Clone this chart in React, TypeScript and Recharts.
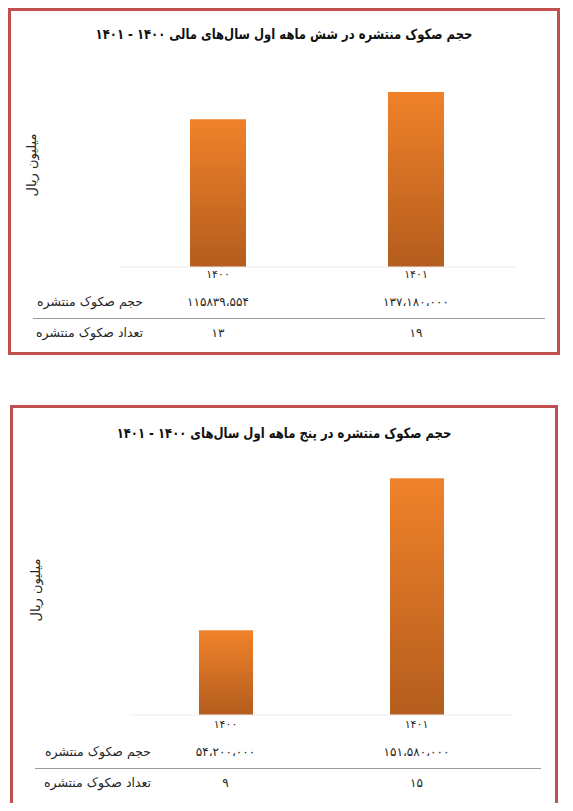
import React from "react";
import { BarChart, Bar, XAxis, YAxis } from "recharts";

const years = ["۱۴۰۰", "۱۴۰۱"];

// شش ماهه اول
const sixMonthVolume = [115839554, 137180000];
const sixMonthVolumeText = ["۱۱۵۸۳۹،۵۵۴", "۱۳۷،۱۸۰،۰۰۰"];
const sixMonthCount = [13, 19];

// پنج ماهه اول
const fiveMonthVolume = [54200000, 151580000];
const fiveMonthVolumeText = ["۵۴،۲۰۰،۰۰۰", "۱۵۱،۵۸۰،۰۰۰"];
const fiveMonthCount = [9, 15];

const rowLabels = ["حجم صکوک منتشره", "تعداد صکوک منتشره"];
const yLabel = "میلیون ریال";
const sixTitle = "حجم صکوک منتشره در شش ماهه اول سال‌های مالی ۱۴۰۰ - ۱۴۰۱";
const fiveTitle = "حجم صکوک منتشره در پنج ماهه اول سال‌های ۱۴۰۰ - ۱۴۰۱";

const FONT = "'DejaVu Sans', sans-serif";
const TEXT = "#262626";

const toFa = (n: number) =>
  String(n).replace(/\d/g, (d) => "۰۱۲۳۴۵۶۷۸۹"[Number(d)]);

const buildRows = (vol: number[], volText: string[], count: number[]) =>
  years.map((year, i) => ({
    year,
    volume: vol[i],
    volumeText: volText[i],
    count: toFa(count[i]),
  }));

type Row = ReturnType<typeof buildRows>[number];

function TableTick(props: any) {
  const { x, y, payload, rows, offsets } = props;
  const row: Row | undefined = rows.find((r: Row) => r.year === payload.value);
  if (!row) return null;
  const common = {
    x,
    textAnchor: "middle" as const,
    dominantBaseline: "central" as const,
    fontFamily: FONT,
    fill: TEXT,
  };
  return (
    <g>
      <text {...common} y={y + offsets[0]} fontSize={11}>
        {row.year}
      </text>
      <text {...common} y={y + offsets[1]} fontSize={12}>
        {row.volumeText}
      </text>
      <text {...common} y={y + offsets[2]} fontSize={12}>
        {row.count}
      </text>
    </g>
  );
}

function Panel({
  title,
  rows,
  gradId,
  box,
  margin,
  axisHeight,
  barSize,
  offsets,
  titleY,
  lineBox,
  labelRight,
  labelY,
  yLabelX,
}: any) {
  const innerW = box.width - 6;
  const innerH = box.height - 6;

  const renderYLabel = (p: any) => {
    const vb = p.viewBox;
    const cx = yLabelX;
    const cy = vb.y + vb.height / 2;
    return (
      <text
        x={cx}
        y={cy}
        transform={`rotate(-90 ${cx} ${cy})`}
        textAnchor="middle"
        dominantBaseline="central"
        fontFamily={FONT}
        fontSize={13}
        fill={TEXT}
      >
        {yLabel}
      </text>
    );
  };

  return (
    <div
      style={{
        position: "absolute",
        left: box.left,
        top: box.top,
        width: box.width,
        height: box.height,
        boxSizing: "border-box",
        border: "3px solid #c0504d",
        background: "#fff",
      }}
    >
      <div
        dir="rtl"
        style={{
          position: "absolute",
          left: 0,
          width: innerW,
          top: titleY - 10,
          height: 20,
          lineHeight: "20px",
          textAlign: "center",
          fontFamily: FONT,
          fontWeight: "bold",
          fontSize: 14,
          color: "#111",
          transform: "scaleX(0.83)",
          whiteSpace: "nowrap",
        }}
      >
        {title}
      </div>

      <BarChart width={innerW} height={innerH} data={rows} margin={margin}>
        <defs>
          <linearGradient id={gradId} x1="0" y1="0" x2="0" y2="1">
            <stop offset="0%" stopColor="#f0822a" />
            <stop offset="100%" stopColor="#b45d1e" />
          </linearGradient>
        </defs>
        <XAxis
          dataKey="year"
          height={axisHeight}
          axisLine={{ stroke: "#ececec" }}
          tickLine={false}
          tickSize={0}
          tickMargin={0}
          interval={0}
          tick={(p: any) => <TableTick {...p} rows={rows} offsets={offsets} />}
        />
        <YAxis
          width={margin.plotLeft}
          domain={[0, 160000000]}
          tick={false}
          axisLine={false}
          tickLine={false}
          label={renderYLabel}
        />
        <Bar
          dataKey="volume"
          fill={`url(#${gradId})`}
          barSize={barSize}
          isAnimationActive={false}
        />
      </BarChart>

      <div
        style={{
          position: "absolute",
          left: lineBox.left,
          top: lineBox.top,
          width: lineBox.width,
          height: 0,
          borderTop: "1px solid #9a9a9a",
        }}
      />

      {rowLabels.map((label, i) => (
        <div
          key={label}
          dir="rtl"
          style={{
            position: "absolute",
            left: 0,
            width: labelRight,
            top: labelY[i] - 10,
            height: 20,
            lineHeight: "20px",
            textAlign: "right",
            fontFamily: FONT,
            fontSize: 12.5,
            color: TEXT,
          }}
        >
          {label}
        </div>
      ))}
    </div>
  );
}

export default function App() {
  const sixRows = buildRows(sixMonthVolume, sixMonthVolumeText, sixMonthCount);
  const fiveRows = buildRows(fiveMonthVolume, fiveMonthVolumeText, fiveMonthCount);

  return (
    <div style={{ position: "relative", width: 557, height: 795 }}>
      <Panel
        title={sixTitle}
        rows={sixRows}
        gradId="barGradSix"
        box={{ left: 0, top: 0, width: 552, height: 347 }}
        margin={{ top: 52, right: 42, bottom: 0, left: 0, plotLeft: 108 }}
        axisHeight={85}
        barSize={56}
        offsets={[7, 35, 66]}
        titleY={23}
        lineBox={{ left: 22, top: 307, width: 512 }}
        labelRight={132}
        labelY={[291, 322]}
        yLabelX={20}
      />
      <Panel
        title={fiveTitle}
        rows={fiveRows}
        gradId="barGradFive"
        box={{ left: 2, top: 397, width: 548, height: 402 }}
        margin={{ top: 57, right: 43, bottom: 0, left: 0, plotLeft: 117 }}
        axisHeight={89}
        barSize={54}
        offsets={[9.5, 37, 67.5]}
        titleY={25}
        lineBox={{ left: 22, top: 360, width: 506 }}
        labelRight={138}
        labelY={[344, 375]}
        yLabelX={22}
      />
    </div>
  );
}
